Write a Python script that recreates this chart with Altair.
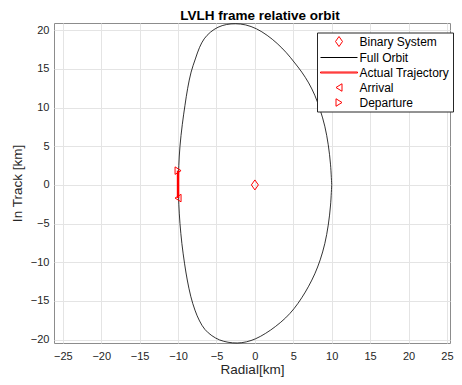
import altair as alt
import pandas as pd

# ---- data ----
orbit_x = [10.0, 9.85, 9.55, 9.1, 8.5, 7.8, 7.0, 6.1, 5.1, 4.1, 2.9, 1.6, 0.2, -1.2, -2.5,
           -3.7, -4.8, -5.8, -6.6, -7.2, -7.75, -8.3, -8.75, -9.1, -9.45, -9.75, -9.9, -9.95,
           -9.9, -9.75, -9.5, -9.15, -8.8, -8.35, -7.8, -7.2, -6.5, -5.6, -4.6, -3.5, -2.3,
           -1.1, 0.1, 1.4, 2.7, 4.0, 5.1, 6.1, 7.0, 7.8, 8.5, 9.1, 9.55, 9.85, 10.0]
orbit_y = [0.0, 2.6, 5.2, 7.6, 9.7, 11.6, 13.2, 14.6, 15.9, 17.1, 18.3, 19.35, 20.2, 20.7, 20.85,
           20.75, 20.4, 19.75, 18.9, 17.8, 16.3, 14.6, 12.5, 10.3, 7.8, 5.0, 2.5, 0.0,
           -2.5, -5.0, -7.6, -10.2, -12.3, -14.4, -16.2, -17.6, -18.7, -19.5, -20.05, -20.35, -20.45,
           -20.3, -19.9, -19.2, -18.3, -17.2, -16.0, -14.6, -13.1, -11.5, -9.7, -7.6, -5.2, -2.6, 0.0]
traj_x = [-10.0, -10.0]
traj_y = [-1.7, 1.85]
binary_x, binary_y = [0.0], [0.0]
arrival_x, arrival_y = [-10.0], [-1.7]
departure_x, departure_y = [-10.0], [1.85]

series_names = ["Binary System", "Full Orbit", "Actual Trajectory", "Arrival", "Departure"]
x_ticks = [-25, -20, -15, -10, -5, 0, 5, 10, 15, 20, 25]
y_ticks = [-20, -15, -10, -5, 0, 5, 10, 15, 20]
x_domain = [-26.15, 25.4]
y_domain = [-20.45, 20.95]

orbit_df = pd.DataFrame({"x": orbit_x, "y": orbit_y, "order": list(range(len(orbit_x))),
                         "series": "Full Orbit"})
traj_df = pd.DataFrame({"x": traj_x, "y": traj_y, "order": [0, 1], "series": "Actual Trajectory"})
pts_df = pd.DataFrame({
    "x": binary_x + arrival_x + departure_x,
    "y": binary_y + arrival_y + departure_y,
    "series": ["Binary System", "Arrival", "Departure"],
})

FONT = "Liberation Sans"
RED = "#ff0000"

diamond = "M0,-1L0.7,0L0,1L-0.7,0Z"
thin_line = "M-3.7,0H3.7"
thick_line = "M-3.7,-0.1H3.7V0.1H-3.7Z"
tri_left = "M-0.6,0L0.6,-0.75L0.6,0.75Z"
tri_right = "M0.6,0L-0.6,-0.75L-0.6,0.75Z"

legend = alt.Legend(
    title=None, orient="none", legendX=263, legendY=9.5,
    strokeColor="#262626", fillColor="white", padding=3, rowPadding=3,
    labelFont=FONT, labelFontSize=12, labelColor="black",
    symbolSize=100, symbolOffset=13, labelOffset=14.5,
    symbolFillColor="transparent", symbolStrokeWidth=1,
)

color = alt.Color("series:N", scale=alt.Scale(domain=series_names,
                  range=[RED, "#000000", RED, RED, RED]), legend=legend)
shape = alt.Shape("series:N", scale=alt.Scale(domain=series_names,
                  range=[diamond, thin_line, thick_line, tri_left, tri_right]), legend=legend)

axis_common = dict(grid=True, gridColor="#e4e4e4", ticks=False, domain=False,
                   labelFont=FONT, labelFontSize=11, labelColor="#262626",
                   titleFont=FONT, titleFontSize=13.5, titleColor="#262626",
                   titleFontWeight="normal")

x_enc = alt.X("x:Q", scale=alt.Scale(domain=x_domain, nice=False, zero=False),
              axis=alt.Axis(values=x_ticks, title="Radial[km]", labelPadding=7,
                            titlePadding=1, **axis_common))
y_enc = alt.Y("y:Q", scale=alt.Scale(domain=y_domain, nice=False, zero=False),
              axis=alt.Axis(values=y_ticks, title="In Track [km]", labelPadding=5,
                            titlePadding=6, **axis_common))

orbit = alt.Chart(orbit_df).mark_line(interpolate="catmull-rom", strokeWidth=0.8).encode(
    x=x_enc, y=y_enc, order="order:Q", color=color)
traj = alt.Chart(traj_df).mark_line(strokeWidth=2.5).encode(
    x=x_enc, y=y_enc, order="order:Q", color=color)
pts = alt.Chart(pts_df).mark_point(filled=False, size=100, opacity=1, strokeWidth=1).encode(
    x=x_enc, y=y_enc, color=color, shape=shape)

chart = alt.layer(orbit, traj, pts).properties(
    width=396, height=320,
    title=alt.TitleParams("LVLH frame relative orbit", font=FONT, fontSize=13.5,
                          fontWeight="bold", color="black", offset=0, dx=8),
    padding={"left": 46, "top": 15, "right": 4, "bottom": 34},
    autosize="none",
).configure_view(stroke="#8c8c8c", strokeWidth=1)

chart.save("out.html", embed_options={"renderer": "svg", "actions": False})
